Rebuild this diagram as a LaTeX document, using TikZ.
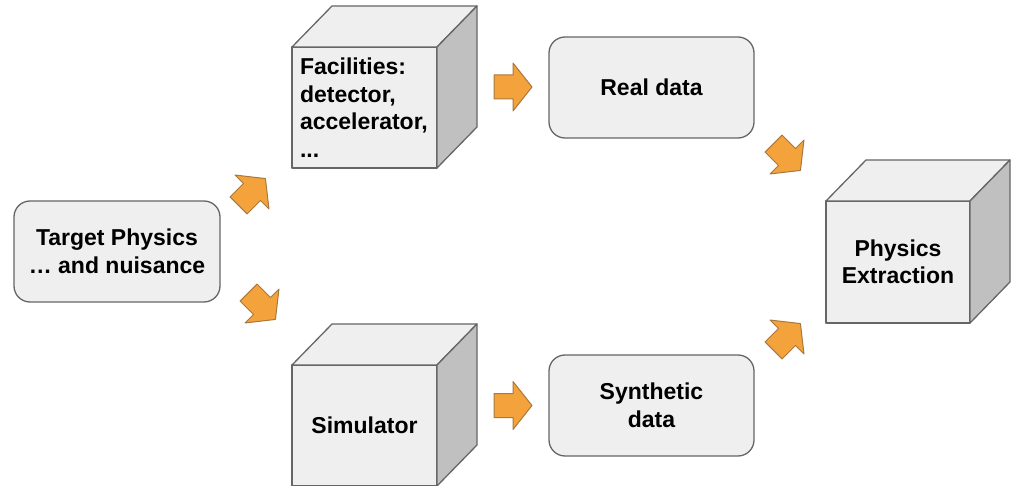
\documentclass[tikz,border=0pt]{standalone}
\usepackage{fontspec}
\setmainfont{Liberation Sans}
\definecolor{boxfill}{HTML}{EFEFEF}
\definecolor{boxline}{HTML}{666666}
\definecolor{sidefill}{HTML}{C0C0C0}
\definecolor{arrowfill}{HTML}{F3A23C}
\definecolor{arrowline}{HTML}{A8783E}
\newcommand{\cubeback}[1]{%
  \draw[cubetop] (#1.north west) -- ++(40,-41) -- ([shift={(40,-41)}]#1.north east) -- (#1.north east) -- cycle;
  \draw[cubeside] (#1.north east) -- ++(40,-41) -- ([shift={(40,-41)}]#1.south east) -- (#1.south east) -- cycle;}
\begin{document}
\begin{tikzpicture}[x=1pt, y=-1pt, line join=round,
		label font/.style={font=\fontsize{23}{27.5}\selectfont\bfseries},
		databox/.style={draw=boxline, fill=boxfill, line width=1.3pt, rounded corners=16pt,
			minimum width=205pt, minimum height=101pt, align=center, label font},
		cubefront/.style={draw=boxline, fill=boxfill, line width=1.3pt, outer sep=0pt,
			minimum width=145pt, minimum height=121pt, align=center, label font},
		cubetop/.style={draw=boxline, fill=boxfill, line width=1.3pt},
		cubeside/.style={draw=boxline, fill=sidefill, line width=1.3pt},
		arrowblock/.pic={
			\draw[fill=arrowfill, draw=arrowline, line width=1pt]
			(-19,-12) -- (0,-12) -- (0,-24) -- (19,0) -- (0,24) -- (0,12) -- (-19,12) -- cycle;
		}
		]
	\useasboundingbox (0,0) rectangle (1015,486);
	% input
	\node [databox, minimum width=206pt] (target) at (117,251.5) {Target Physics\\\ldots\ and nuisance};
	% upper branch
	\node [cubefront, align=left, text width=129pt, inner xsep=8pt] (facilities) at (364.5,107.5)
		{Facilities:\\detector,\\accelerator,\\...};
	\cubeback{facilities}
	\node [databox] (real) at (651.5,87.5) {Real data};
	% lower branch
	\node [cubefront] (simulator) at (364.5,425.5) {Simulator};
	\cubeback{simulator}
	\node [databox] (synthetic) at (651.5,405.5) {Synthetic\\data};
	% output
	\node [cubefront, minimum width=144pt, minimum height=122pt] (extraction) at (898,262) {Physics\\Extraction};
	\cubeback{extraction}
	% block arrows
	\pic [rotate=45] (toFacilities) at (252,192) {arrowblock};
	\pic [rotate=-45] (toSimulator) at (262,306) {arrowblock};
	\pic (toReal) at (513,87) {arrowblock};
	\pic (toSynthetic) at (513,405.5) {arrowblock};
	\pic [rotate=-45] (fromReal) at (787,157) {arrowblock};
	\pic [rotate=45] (fromSynthetic) at (787,337) {arrowblock};
\end{tikzpicture}
\end{document}
